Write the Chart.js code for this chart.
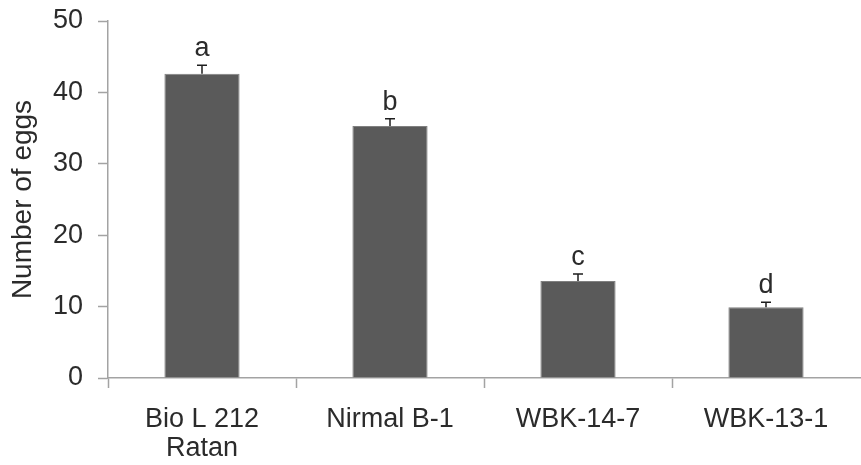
<!DOCTYPE html>
<html>
<head>
<meta charset="utf-8">
<script src="https://cdn.jsdelivr.net/npm/chart.js@4/dist/chart.umd.min.js"></script>
<style>
  html, body { margin: 0; padding: 0; background: #ffffff; }
  #wrap { width: 861px; height: 465px; position: relative; }
</style>
</head>
<body>
<div id="wrap"><canvas id="c" width="861" height="465"></canvas></div>
<script>
// ---- data ----
const categories = [["Bio L 212", "Ratan"], "Nirmal B-1", "WBK-14-7", "WBK-13-1"];
const eggs = [42.6, 35.3, 13.6, 9.9];
const errors = [1.2, 1.0, 0.95, 0.7];
const letters = ["a", "b", "c", "d"];
const yTicks = [0, 10, 20, 30, 40, 50];

const FONT = "'Liberation Sans', Arial, sans-serif";
const TEXT = "#2b2b2b";
const AXIS = "#a3a3a3";

const errorPlugin = {
  id: "errorBars",
  afterDatasetsDraw(chart) {
    const ctx = chart.ctx;
    const meta = chart.getDatasetMeta(0);
    const ys = chart.scales.y;
    ctx.save();
    meta.data.forEach((bar, i) => {
      const x = bar.x;
      const yBase = ys.getPixelForValue(eggs[i]);
      const yTop = ys.getPixelForValue(eggs[i] + errors[i]);
      ctx.strokeStyle = "#1e1e1e";
      ctx.lineWidth = 1.5;
      ctx.beginPath();
      ctx.moveTo(x, yBase);
      ctx.lineTo(x, yTop);
      ctx.moveTo(x - 5, yTop);
      ctx.lineTo(x + 5, yTop);
      ctx.stroke();
      ctx.fillStyle = TEXT;
      ctx.font = "27px " + FONT;
      ctx.textAlign = "center";
      ctx.textBaseline = "alphabetic";
      ctx.fillText(letters[i], x, yTop - 9);
    });
    ctx.restore();
  }
};

new Chart(document.getElementById("c"), {
  type: "bar",
  data: {
    labels: categories,
    datasets: [{
      data: eggs,
      backgroundColor: "#5a5a5a",
      borderColor: "#808080",
      borderWidth: 1,
      barPercentage: 0.4,
      categoryPercentage: 1.0
    }]
  },
  options: {
    responsive: false,
    animation: false,
    devicePixelRatio: 1,
    layout: { padding: { top: 21, right: 1, bottom: 0, left: 0 } },
    plugins: { legend: { display: false }, tooltip: { enabled: false } },
    scales: {
      x: {
        offset: true,
        grid: {
          display: true,
          offset: true,
          drawOnChartArea: false,
          drawTicks: true,
          tickLength: 10,
          tickWidth: 1.5,
          tickColor: (c) => (c.type === "tick" ? AXIS : "rgba(0,0,0,0)")
        },
        border: { display: true, color: AXIS, width: 1.5 },
        ticks: {
          color: TEXT,
          font: { family: FONT, size: 27, lineHeight: 1.04 },
          padding: 18,
          maxRotation: 0,
          autoSkip: false
        },
        afterFit: (s) => { s.height = 87; s.paddingLeft = 0; s.paddingRight = 0; }
      },
      y: {
        min: 0,
        max: 50,
        afterBuildTicks: (s) => { s.ticks = yTicks.map(v => ({ value: v })); },
        grid: {
          display: true,
          drawOnChartArea: false,
          drawTicks: true,
          tickLength: 10,
          tickWidth: 1.5,
          tickColor: AXIS
        },
        border: { display: true, color: AXIS, width: 1.5 },
        ticks: {
          color: TEXT,
          font: { family: FONT, size: 27 },
          padding: 15
        },
        title: {
          display: true,
          text: "Number of eggs",
          color: TEXT,
          font: { family: FONT, size: 28 },
          padding: { top: 6, bottom: 0 }
        },
        afterFit: (s) => { s.width = 108; s.paddingTop = 0; s.paddingBottom = 0; }
      }
    }
  },
  plugins: [errorPlugin]
});
</script>
</body>
</html>
